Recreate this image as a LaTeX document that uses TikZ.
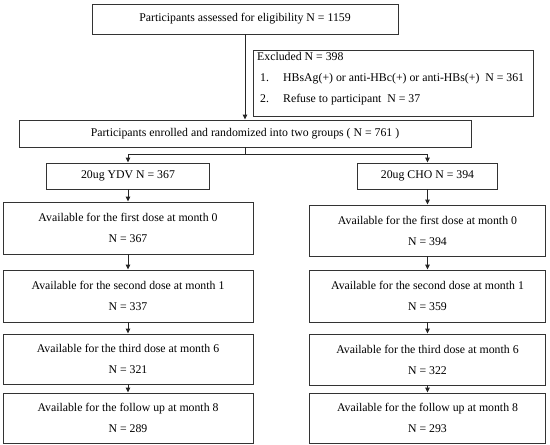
\documentclass[tikz,border=0pt]{standalone}
\usepackage{fontspec}
\setmainfont{Liberation Serif}
\usetikzlibrary{arrows.meta}
\begin{document}
\begin{tikzpicture}[x=1pt,y=-1pt,
  box/.style={draw=black!80, line width=0.9pt, rectangle, inner sep=0pt, align=center,
    font=\fontsize{11.8}{21}\selectfont, text=black},
  arr/.style={draw=black!85, line width=0.9pt, -{Triangle[length=5pt,width=4.5pt]}},
  ln/.style={draw=black!85, line width=0.9pt},
  lbox/.style={box, minimum width=250pt},
  rbox/.style={box, minimum width=236pt}]
\useasboundingbox (0,0) rectangle (550,445);
% top
\node[box, minimum width=306pt, minimum height=30pt] (assess) at (245,19) {Participants assessed for eligibility N = 1159};
\node[box, minimum width=280pt, minimum height=66pt, anchor=north west] (excl) at (253,50) {};
\node[anchor=north west, inner sep=0pt, align=left, font=\fontsize{11.8}{21}\selectfont] (excltext)
  at ([shift={(4pt,-2.5pt)}]excl.north west)
  {Excluded N = 398\\
   \hspace*{3pt}\makebox[23pt][l]{1.}HBsAg(+) or anti-HBc(+) or anti-HBs(+)\ \ N = 361\\
   \hspace*{3pt}\makebox[23pt][l]{2.}Refuse to participant\ \ N = 37};
\node[box, minimum width=452pt, minimum height=27pt] (enr) at (245,133.5) {Participants enrolled and randomized into two groups ( N = 761 )};
\draw[arr] (assess.south) -- (assess.south |- enr.north);
% groups
\node[box, minimum width=163pt, minimum height=26pt] (ydv) at (128,176) {20ug YDV N = 367};
\node[box, minimum width=140pt, minimum height=26pt] (cho) at (427.5,176) {20ug CHO N = 394};
\coordinate (split) at (245,154);
\draw[ln] (enr.south) -- (split);
\draw[arr] (split) -| (ydv.north);
\draw[arr] (split) -| (cho.north);
% left column
\node[lbox, minimum height=52pt] (l1) at (128,228) {Available for the first dose at month 0\\N = 367};
\node[lbox, minimum height=52pt] (l2) at (128,296) {Available for the second dose at month 1\\N = 337};
\node[lbox, minimum height=50pt] (l3) at (128,359) {Available for the third dose at month 6\\N = 321};
\node[lbox, minimum height=50pt] (l4) at (128,418) {Available for the follow up at month 8\\N = 289};
% right column
\node[rbox, minimum height=51pt] (r1) at (427.5,230.5) {Available for the first dose at month 0\\N = 394};
\node[rbox, minimum height=52pt] (r2) at (427.5,296) {Available for the second dose at month 1\\N = 359};
\node[rbox, minimum height=51pt] (r3) at (427.5,359.5) {Available for the third dose at month 6\\N = 322};
\node[rbox, minimum height=50pt] (r4) at (427.5,418) {Available for the follow up at month 8\\N = 293};
\draw[arr] (ydv.south) -- (l1.north);
\draw[arr] (l1.south) -- (l2.north);
\draw[arr] (l2.south) -- (l3.north);
\draw[arr] (l3.south) -- (l4.north);
\draw[arr] (cho.south) -- (r1.north);
\draw[arr] (r1.south) -- (r2.north);
\draw[arr] (r2.south) -- (r3.north);
\draw[arr] (r3.south) -- (r4.north);
\end{tikzpicture}
\end{document}
